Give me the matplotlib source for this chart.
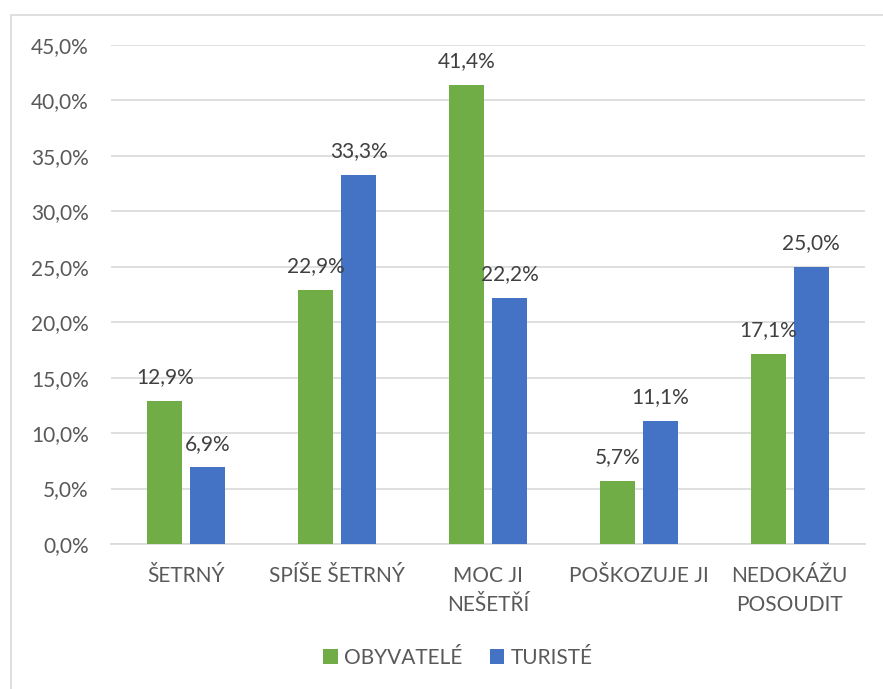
import numpy as np
import matplotlib
matplotlib.use("Agg")
import matplotlib.pyplot as plt
from matplotlib.patches import Rectangle

categories = ["ŠETRNÝ", "SPÍŠE ŠETRNÝ", "MOC JI\nNEŠETŘÍ", "POŠKOZUJE JI", "NEDOKÁŽU\nPOSOUDIT"]
obyvatele = [12.9, 22.9, 41.4, 5.7, 17.1]
turiste = [6.9, 33.3, 22.2, 11.1, 25.0]
yticks = [0, 5, 10, 15, 20, 25, 30, 35, 40, 45]

GREEN = "#70AD47"
BLUE = "#4472C4"
TXT = "#595959"

plt.rcParams["font.family"] = ["Lato", "DejaVu Sans"]

fig = plt.figure(figsize=(8.83, 6.89), dpi=100)
fig.patches.append(Rectangle((11 / 883, -0.05), 1.2, 1 - 15 / 689 + 0.05,
                             transform=fig.transFigure, fill=False,
                             edgecolor="#D9D9D9", linewidth=1.2))
ax = fig.add_axes([111 / 883, 1 - 544 / 689, (865 - 111) / 883, (544 - 45) / 689])

x = np.arange(len(categories))
w = 0.232
off = 0.143
b1 = ax.bar(x - off, obyvatele, w, color=GREEN, label="OBYVATELÉ", zorder=3)
b2 = ax.bar(x + off, turiste, w, color=BLUE, label="TURISTÉ", zorder=3)

for bars, vals in ((b1, obyvatele), (b2, turiste)):
    for rect, v in zip(bars, vals):
        ax.annotate(f"{v:.1f}%".replace(".", ","),
                    (rect.get_x() + rect.get_width() / 2, v),
                    xytext=(0, 10), textcoords="offset points",
                    ha="center", va="bottom", fontsize=15, color="#404040")

ax.set_xlim(-0.5, len(categories) - 0.5)
ax.set_ylim(0, 45)
ax.set_yticks(yticks)
ax.set_yticklabels([f"{t:.1f}%".replace(".", ",") for t in yticks])
ax.set_xticks(x)
ax.set_xticklabels(categories, linespacing=1.55)
ax.tick_params(axis="both", length=0, labelsize=15, labelcolor=TXT)
ax.tick_params(axis="x", pad=16)
ax.tick_params(axis="y", pad=16)
ax.yaxis.grid(True, color="#D9D9D9", linewidth=1.2, zorder=0)
for s in ("top", "right", "left"):
    ax.spines[s].set_visible(False)
ax.spines["bottom"].set_color("#D9D9D9")
ax.spines["bottom"].set_linewidth(1.2)

fig.legend(handles=[b1, b2], loc="center", bbox_to_anchor=(458 / 883, 1 - 658 / 689),
           ncol=2, frameon=False, fontsize=15, labelcolor=TXT,
           handlelength=0.7, handleheight=0.7, handletextpad=0.3, columnspacing=1.3)

fig.savefig("out.png", dpi=100)
